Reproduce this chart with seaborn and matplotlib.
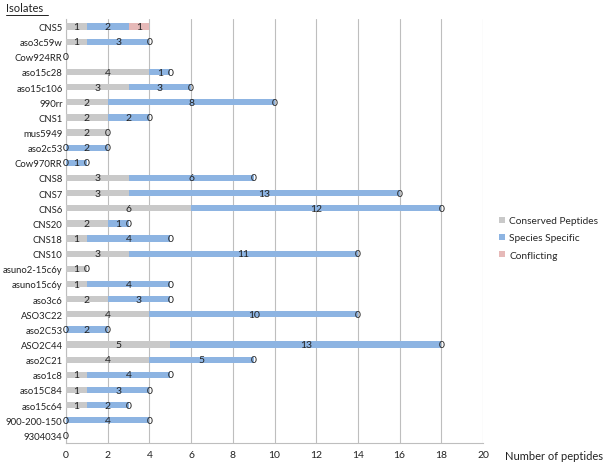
import numpy as np
import pandas as pd
import seaborn as sns
import matplotlib.pyplot as plt
from matplotlib.patches import Patch
from matplotlib.lines import Line2D

# data (top to bottom), None = no segment / no label
isolates = ['CNS5', 'aso3c59w', 'Cow924RR', 'aso15c28', 'aso15c106', '990rr', 'CNS1',
            'mus5949', 'aso2c53', 'Cow970RR', 'CNS8', 'CNS7', 'CNS6', 'CNS20', 'CNS18',
            'CNS10', 'asuno2-15c6y', 'asuno15c6y', 'aso3c6', 'ASO3C22', 'aso2C53',
            'ASO2C44', 'aso2C21', 'aso1c8', 'aso15C84', 'aso15c64', '900-200-150', '9304034']
conserved = [1, 1, 0, 4, 3, 2, 2, 2, 0, 0, 3, 3, 6, 2, 1, 3, 1, 1, 2, 4, 0, 5, 4, 1, 1, 1, 0, 0]
species = [2, 3, None, 1, 3, 8, 2, None, 2, 1, 6, 13, 12, 1, 4, 11, None, 4, 3, 10, 2, 13, 5, 4, 3, 2, 4, None]
conflicting = [1, 0, None, 0, 0, 0, 0, 0, 0, 0, 0, 0, 0, 0, 0, 0, 0, 0, 0, 0, 0, 0, 0, 0, 0, 0, 0, None]

series_names = ['Conserved Peptides', 'Species Specific', 'Conflicting']
colors = ['#C9C9C9', '#8DB4E2', '#E6B9B8']

df = pd.DataFrame({'isolate': isolates, 'c': conserved, 's': species, 'k': conflicting})
df['cum1'] = df['c'].fillna(0)
df['cum2'] = df['cum1'] + df['s'].fillna(0)
df['cum3'] = df['cum2'] + df['k'].fillna(0)

sns.set_style('white')
plt.rcParams['font.family'] = ['Lato', 'DejaVu Sans']

fig = plt.figure(figsize=(6.05, 4.64), dpi=100)
ax = fig.add_axes([66/605, 20/464, (483-66)/605, (444-20)/464])

# stacked bars drawn largest first so they overlap
for col, colr in zip(['cum3', 'cum2', 'cum1'], colors[::-1]):
    sns.barplot(data=df, x=col, y='isolate', order=isolates, color=colr,
                width=0.42, orient='h', ax=ax, zorder=3, saturation=1, linewidth=0)

# labels in the middle of each segment
for i, row in df.iterrows():
    segs = [(row['c'], 0, row['cum1']), (row['s'], row['cum1'], row['cum2']),
            (row['k'], row['cum2'], row['cum3'])]
    for v, a, b in segs:
        if v is None or pd.isna(v):
            continue
        ax.text((a + b) / 2, i, str(int(v)), ha='center', va='center',
                fontsize=7.5, color='#222222', zorder=5)

ax.set_xlim(0, 20)
ax.set_ylim(len(isolates) - 0.5, -0.5)
ax.set_xticks(np.arange(0, 21, 2))
ax.xaxis.grid(True, color='#BEBEBE', linewidth=0.8, zorder=0)
ax.set_axisbelow(True)
ax.set_xlabel('')
ax.set_ylabel('')
ax.tick_params(axis='x', length=0, labelsize=7.5, colors='#222222', pad=5)
ax.tick_params(axis='y', length=0, labelsize=6.8, colors='#222222', pad=2.5)
for s in ['top', 'right']:
    ax.spines[s].set_visible(False)
for s in ['left', 'bottom']:
    ax.spines[s].set_color('#BEBEBE')
    ax.spines[s].set_linewidth(0.8)

fig.text(505/605, 1 - 457/464, 'Number of peptides', fontsize=8, va='center', ha='left', color='#222222')
fig.text(6/605, 1 - 9/464, 'Isolates', fontsize=8, va='center', ha='left', color='#222222')
fig.add_artist(Line2D([6/605, 48/605], [1 - 16/464, 1 - 16/464], color='#222222', linewidth=0.7))

handles = [Patch(facecolor=c, edgecolor='none') for c in colors]
fig.legend(handles, series_names, loc='center left', bbox_to_anchor=(490/605, 1 - 239/464),
           frameon=False, fontsize=7.3, handlelength=0.6, handleheight=0.6,
           handletextpad=0.4, labelspacing=0.8)

fig.savefig('out.png', dpi=100)
